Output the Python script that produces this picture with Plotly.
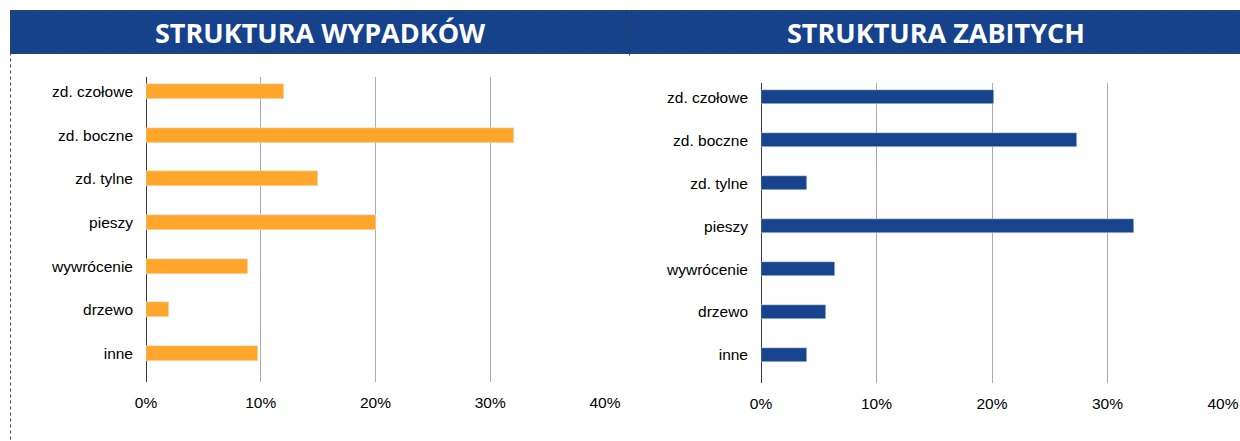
import plotly.graph_objects as go

W, H = 1240, 441

categories = ["zd. czołowe", "zd. boczne", "zd. tylne", "pieszy", "wywrócenie", "drzewo", "inne"]
wypadki = [0.120, 0.321, 0.150, 0.200, 0.089, 0.020, 0.098]
zabici = [0.202, 0.274, 0.040, 0.323, 0.064, 0.056, 0.040]
titles = ["STRUKTURA WYPADKÓW", "STRUKTURA ZABITYCH"]
tick_vals = [0, 0.1, 0.2, 0.3, 0.4]
tick_text = ["0%", "10%", "20%", "30%", "40%"]

ORANGE = "#FFA62B"
BLUE = "#17448C"
HEADER = "#15428B"


def px_x(x):
    return x / W


def px_y(y):
    return 1 - y / H


fig = go.Figure()
fig.add_trace(go.Bar(y=categories, x=wypadki, orientation="h", marker_color=ORANGE,
                     width=0.34, xaxis="x", yaxis="y", showlegend=False))
fig.add_trace(go.Bar(y=categories, x=zabici, orientation="h", marker_color=BLUE,
                     width=0.33, xaxis="x2", yaxis="y2", showlegend=False))

axis_font = dict(family="Liberation Sans, Arial, sans-serif", size=15.5, color="#000000")

xcommon = dict(range=[0, 0.4], tickvals=tick_vals, ticktext=tick_text, showgrid=True,
               gridcolor="#ababab", gridwidth=1, zeroline=True, zerolinecolor="#3a3a3a",
               zerolinewidth=1, showline=False, ticks="", tickfont=axis_font,
               ticklabelstandoff=9, fixedrange=True, automargin=False)
ycommon = dict(type="category", categoryorder="array", categoryarray=categories,
               range=[6.652, -0.332], showgrid=False, zeroline=False, showline=False,
               ticks="", tickfont=axis_font, ticklabelstandoff=12, fixedrange=True,
               automargin=False)

fig.update_layout(
    width=W, height=H,
    autosize=False,
    margin=dict(l=0, r=0, t=0, b=0, pad=0),
    paper_bgcolor="white", plot_bgcolor="white",
    xaxis=dict(domain=[px_x(146), px_x(605)], anchor="y", **xcommon),
    yaxis=dict(domain=[px_y(382), px_y(77)], anchor="x", **ycommon),
    xaxis2=dict(domain=[px_x(761), px_x(1223)], anchor="y2", **xcommon),
    yaxis2=dict(domain=[px_y(383), px_y(83)], anchor="x2", **ycommon),
    bargap=0,
)

shapes = []
# header bands
shapes.append(dict(type="rect", xref="paper", yref="paper", x0=px_x(10), x1=px_x(629),
                   y0=px_y(54), y1=px_y(10), fillcolor=HEADER, line=dict(width=0), layer="below"))
shapes.append(dict(type="rect", xref="paper", yref="paper", x0=px_x(629), x1=px_x(1240),
                   y0=px_y(54), y1=px_y(10), fillcolor=HEADER, line=dict(width=0), layer="below"))
dot = dict(color="#444444", width=1, dash="dot")
# dotted borders
shapes.append(dict(type="line", xref="paper", yref="paper", x0=px_x(10.5), x1=px_x(1240),
                   y0=px_y(10.5), y1=px_y(10.5), line=dot))
shapes.append(dict(type="line", xref="paper", yref="paper", x0=px_x(10.5), x1=px_x(1240),
                   y0=px_y(53.5), y1=px_y(53.5), line=dot))
shapes.append(dict(type="line", xref="paper", yref="paper", x0=px_x(10.5), x1=px_x(10.5),
                   y0=px_y(10.5), y1=0, line=dot))
shapes.append(dict(type="line", xref="paper", yref="paper", x0=px_x(629.5), x1=px_x(629.5),
                   y0=px_y(10.5), y1=px_y(58), line=dot))
fig.update_layout(shapes=shapes)

title_font = dict(family="Open Sans, Noto Sans, sans-serif", size=27, color="white")
fig.add_annotation(text="<b>" + titles[0] + "</b>", xref="paper", yref="paper",
                   x=px_x(320), y=px_y(32), showarrow=False, font=title_font,
                   xanchor="center", yanchor="middle")
fig.add_annotation(text="<b>" + titles[1] + "</b>", xref="paper", yref="paper",
                   x=px_x(936), y=px_y(32), showarrow=False, font=title_font,
                   xanchor="center", yanchor="middle")

fig.write_html(
    "out.html",
    config={"displayModeBar": False},
    post_script="document.body.style.margin='0';document.body.style.overflow='hidden';",
)
